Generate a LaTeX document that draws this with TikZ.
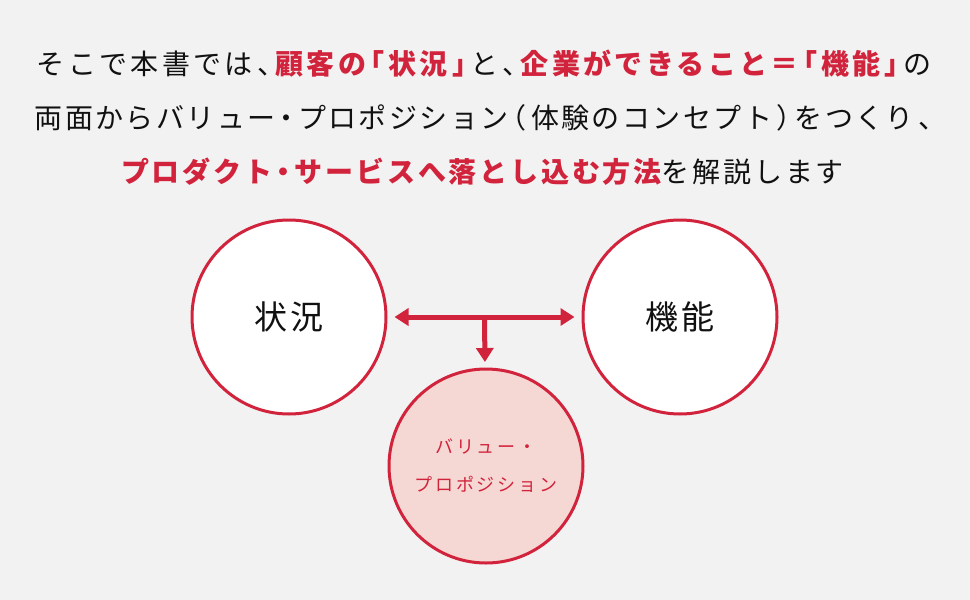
\documentclass[tikz,border=0pt]{standalone}
\usepackage{fontspec}
\setmainfont{Noto Sans CJK JP}
\usetikzlibrary{arrows.meta}

\definecolor{akairo}{RGB}{210,35,60}
\definecolor{usuaka}{RGB}{245,216,211}
\definecolor{haikei}{RGB}{242,242,242}
\definecolor{kuro}{RGB}{17,17,17}
\newcommand{\aka}[1]{{\bfseries\color{akairo}#1}}
\newcommand{\han}[1]{\kern0.15em{\addfontfeature{RawFeature=+halt}#1}\kern0.15em}

\begin{document}
\begin{tikzpicture}[x=1pt, y=-1pt, line join=round, >={Triangle[width=17pt, length=14pt]},
	maru/.style={circle, draw=akairo, line width=3pt, minimum size=194pt, inner sep=0pt},
	midashi/.style={text=kuro, inner sep=0pt, font=\fontsize{28}{34}\selectfont\addfontfeature{LetterSpace=#1}},
	yajirushi/.style={akairo, line width=5pt}]
	% 背景
	\fill[haikei] (0, 0) rectangle (970, 600);

	% 見出しの3行
	\node[midashi=12] (gyo1) at (484, 64) {そこで本書では\han{、}\aka{顧客の\han{「}状況\han{」}}と\han{、}\aka{企業ができること＝\han{「}機能\han{」}}の};
	\node[midashi=8.7] (gyo2) at (485.5, 118) {両面からバリュー\han{・}プロポジション\han{（}体験のコンセプト\han{）}をつくり\han{、}};
	\node[midashi=10.1] (gyo3) at (482.5, 171.5) {\aka{プロダクト\han{・}サービスへ落とし込む方法}を解説します};

	% 円
	\node[maru, fill=white, text=kuro, font=\fontsize{33}{40}\selectfont\addfontfeature{LetterSpace=8}] (jokyo) at (289, 317) {状況};
	\node[maru, fill=white, text=kuro, font=\fontsize{33}{40}\selectfont\addfontfeature{LetterSpace=8}] (kino) at (680, 317) {機能};
	\node[maru, fill=usuaka, text=akairo, align=center, font=\fontsize{18}{38}\selectfont\addfontfeature{LetterSpace=16}] (vp) at (486, 466) {バリュー・\\プロポジション};

	% 矢印
	\draw[<->, yajirushi, shorten <=7pt, shorten >=7pt] (jokyo) -- (kino) coordinate[midway] (bunki);
	\draw[->, yajirushi, shorten >=5.5pt] (bunki) -- (vp);
\end{tikzpicture}
\end{document}
